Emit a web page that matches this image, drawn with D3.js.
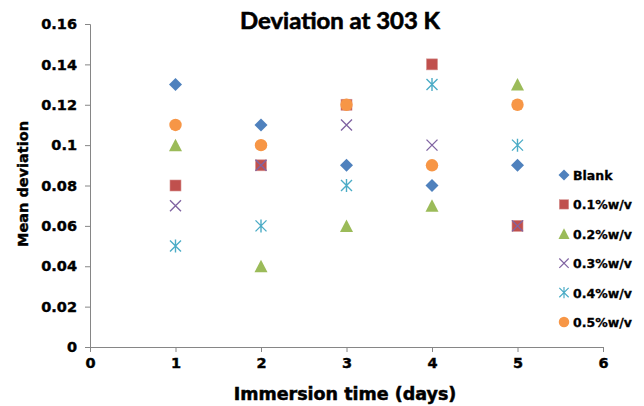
<!DOCTYPE html>
<html>
<head>
<meta charset="utf-8">
<script src="https://cdn.jsdelivr.net/npm/d3@7"></script>
<style>
  html, body { margin: 0; padding: 0; background: #fff; }
  svg { display: block; }
</style>
</head>
<body>
<svg id="chart" width="644" height="406"></svg>
<script>
// Immersion days and mean deviation per inhibitor concentration
const days = [1, 2, 3, 4, 5];
const seriesNames = ["Blank", "0.1%w/v", "0.2%w/v", "0.3%w/v", "0.4%w/v", "0.5%w/v"];
const blank = [0.13, 0.11, 0.09, 0.08, 0.09];
const conc01 = [0.08, 0.09, 0.12, 0.14, 0.06];
const conc02 = [0.10, 0.04, 0.06, 0.07, 0.13];
const conc03 = [0.07, 0.09, 0.11, 0.10, 0.06];
const conc04 = [0.05, 0.06, 0.08, 0.13, 0.10];
const conc05 = [0.11, 0.10, 0.12, 0.09, 0.12];
const xTicks = [0, 1, 2, 3, 4, 5, 6];
const yTicks = [0, 0.02, 0.04, 0.06, 0.08, 0.1, 0.12, 0.14, 0.16];

const seriesValues = [blank, conc01, conc02, conc03, conc04, conc05];
const colors = ["#4F81BD", "#C0504D", "#9BBB59", "#8064A2", "#4BACC6", "#F79646"];
const shapes = ["diamond", "square", "triangle", "cross", "star", "circle"];

const svg = d3.select("#chart");
const x = d3.scaleLinear().domain([0, 6]).range([90, 603]);
const y = d3.scaleLinear().domain([0, 0.16]).range([347, 24]);
const axisFont = "Tahoma, 'DejaVu Sans', Verdana, sans-serif";

// Marker drawing
function drawMarker(g, shape, color) {
  if (shape === "diamond") {
    g.append("path").attr("d", "M0,-6.5L6.5,0L0,6.5L-6.5,0Z").attr("fill", color);
  } else if (shape === "square") {
    g.append("rect").attr("x", -5.5).attr("y", -5.5).attr("width", 11).attr("height", 11)
      .attr("fill", color).attr("stroke", "#d59290").attr("stroke-width", 0.6);
  } else if (shape === "triangle") {
    g.append("path").attr("d", "M0,-6.5L6.5,6L-6.5,6Z").attr("fill", color);
  } else if (shape === "cross") {
    g.append("path").attr("d", "M-5.5,-5.5L5.5,5.5M-5.5,5.5L5.5,-5.5")
      .attr("stroke", color).attr("stroke-width", 1.4).attr("fill", "none");
  } else if (shape === "star") {
    g.append("path").attr("d", "M-5.5,-5.5L5.5,5.5M-5.5,5.5L5.5,-5.5M0,-6.5L0,6.5")
      .attr("stroke", color).attr("stroke-width", 1.4).attr("fill", "none");
  } else if (shape === "circle") {
    g.append("circle").attr("r", 6.2).attr("fill", color);
  }
}

// Heavier bold for axis text
function heavy(sel, w) {
  return sel.attr("stroke", "#000").attr("stroke-width", w).attr("paint-order", "stroke");
}

// Axes
const xAxis = d3.axisBottom(x).tickValues(xTicks).tickSize(5).tickPadding(6).tickFormat(d3.format("d"));
const yAxis = d3.axisLeft(y).tickValues(yTicks).tickSize(5).tickPadding(8).tickFormat(d => d === 0 ? "0" : String(+d.toFixed(2)));

const gx = svg.append("g").attr("transform", `translate(0,${y(0)})`).call(xAxis);
const gy = svg.append("g").attr("transform", `translate(${x(0)},0)`).call(yAxis);
[gx, gy].forEach(g => {
  g.select(".domain").attr("stroke", "#868686").attr("stroke-width", 1);
  g.selectAll(".tick line").attr("stroke", "#868686");
  heavy(g.selectAll(".tick text").attr("fill", "#000").style("font-family", axisFont)
    .style("font-size", "14.5px").style("font-weight", "bold"), 0.4);
});

// Points
seriesValues.forEach((vals, si) => {
  const g = svg.append("g");
  vals.forEach((v, i) => {
    const m = g.append("g").attr("transform", `translate(${x(days[i])},${y(v)})`);
    drawMarker(m, shapes[si], colors[si]);
  });
});

// Title
heavy(svg.append("text").attr("x", 340).attr("y", 29).attr("text-anchor", "middle")
  .style("font-family", "Lato, 'Open Sans', sans-serif").style("font-weight", "bold")
  .style("font-size", "22.5px").attr("textLength", 200).attr("lengthAdjust", "spacingAndGlyphs")
  .text("Deviation at 303 K"), 0.6);

// Axis titles
heavy(svg.append("text").attr("x", 345).attr("y", 400).attr("text-anchor", "middle")
  .style("font-family", axisFont).style("font-weight", "bold").style("font-size", "17.5px")
  .text("Immersion time (days)"), 0.5);
heavy(svg.append("text").attr("transform", "translate(28,184) rotate(-90)").attr("text-anchor", "middle")
  .style("font-family", axisFont).style("font-weight", "bold").style("font-size", "14.5px")
  .text("Mean deviation"), 0.4);

// Legend
const legend = svg.append("g");
seriesNames.forEach((name, i) => {
  const row = legend.append("g").attr("transform", `translate(564,${175 + i * 29.4})`);
  const m = row.append("g").attr("transform", "scale(0.85)");
  drawMarker(m, shapes[i], colors[i]);
  heavy(row.append("text").attr("x", 9).attr("y", 5).style("font-family", axisFont)
    .style("font-weight", "bold").style("font-size", "12.5px").attr("fill", "#000").text(name), 0.3);
});
</script>
</body>
</html>
